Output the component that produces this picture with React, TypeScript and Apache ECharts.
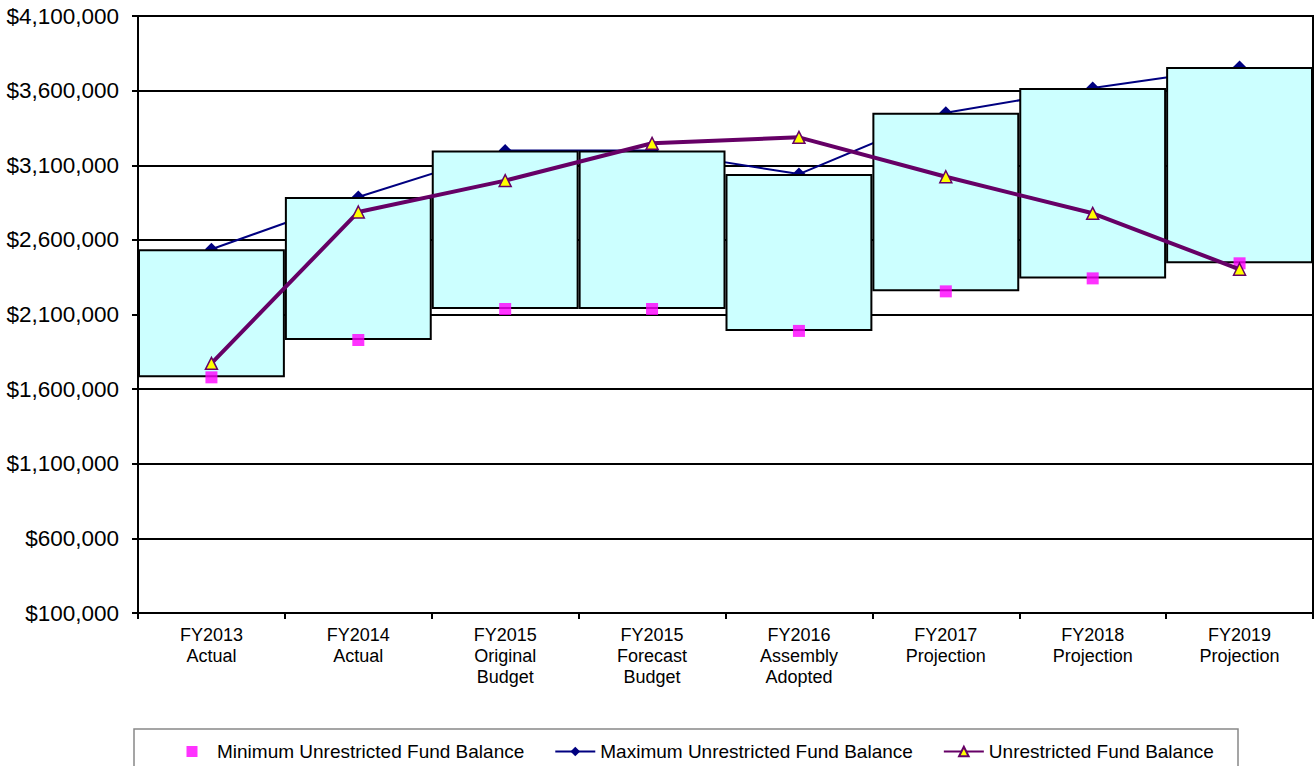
import React, { useEffect, useRef } from 'react';
import * as echarts from 'echarts';

const categories = [
  'FY2013\nActual',
  'FY2014\nActual',
  'FY2015\nOriginal\nBudget',
  'FY2015\nForecast\nBudget',
  'FY2016\nAssembly\nAdopted',
  'FY2017\nProjection',
  'FY2018\nProjection',
  'FY2019\nProjection',
];
const minimumBalance = [1679000, 1929000, 2137000, 2137000, 1990000, 2255000, 2342000, 2443000];
const maximumBalance = [2537000, 2887000, 3198000, 3198000, 3041000, 3452000, 3618000, 3758000];
const unrestrictedBalance = [1773000, 2787000, 2997000, 3247000, 3287000, 3023000, 2778000, 2403000];

const yAxisMin = 100000;
const yAxisMax = 4100000;
const yAxisStep = 500000;

const seriesNames = [
  'Minimum Unrestricted Fund Balance',
  'Maximum Unrestricted Fund Balance',
  'Unrestricted Fund Balance',
];
const titleText = 'Unrestricted Fund Balance';

const FONT = '"Liberation Sans", Arial, sans-serif';
// square icon centred in a 40x12 legend box (degenerate sub-paths fix the extent)
const SQUARE_ICON = 'path://M0,0L0.01,0Z M14.5,0.5h11v11h-11Z M39.99,12L40,12Z';

export default function App() {
  const ref = useRef<HTMLDivElement>(null);
  useEffect(() => {
    if (!ref.current) return;
    const chart = echarts.init(ref.current, undefined, { renderer: 'svg' });
    const boxHeights = maximumBalance.map((v, i) => v - minimumBalance[i]);
    chart.setOption({
      animation: false,
      backgroundColor: '#fff',
      textStyle: { fontFamily: FONT },
      grid: {
        left: 138,
        right: 1,
        top: 16,
        bottom: 153,
        show: true,
        borderColor: '#000',
        borderWidth: 2,
        backgroundColor: 'transparent',
      },
      graphic: [
        {
          type: 'text',
          x: 662,
          y: 2,
          style: {
            text: titleText,
            fontFamily: FONT,
            fontSize: 21,
            fontWeight: 'bold',
            fill: '#000',
            align: 'center',
            verticalAlign: 'bottom',
          },
        },
        {
          type: 'rect',
          shape: { x: 134, y: 729, width: 1104, height: 60 },
          style: { fill: 'none', stroke: '#888', lineWidth: 1.5 },
          z: -1,
        },
      ],
      legend: {
        data: [
          { name: seriesNames[0], icon: SQUARE_ICON },
          { name: seriesNames[1] },
          { name: seriesNames[2] },
        ],
        left: 167,
        top: 737,
        itemWidth: 40,
        itemHeight: 12,
        itemGap: 30,
        textStyle: { fontSize: 19, color: '#000', fontFamily: FONT },
      },
      xAxis: {
        type: 'category',
        data: categories,
        boundaryGap: true,
        axisLine: { show: true, lineStyle: { color: '#000', width: 2 } },
        axisTick: { show: true, length: 6, interval: 0, lineStyle: { color: '#000', width: 2 } },
        axisLabel: {
          interval: 0,
          fontSize: 18,
          lineHeight: 21,
          color: '#000',
          margin: 11,
          fontFamily: FONT,
        },
        splitLine: { show: false },
      },
      yAxis: {
        type: 'value',
        min: yAxisMin,
        max: yAxisMax,
        interval: yAxisStep,
        axisLine: { show: true, lineStyle: { color: '#000', width: 2 } },
        axisTick: { show: true, length: 6, lineStyle: { color: '#000', width: 2 } },
        axisLabel: {
          fontSize: 22.5,
          color: '#000',
          margin: 19,
          fontFamily: FONT,
          formatter: (v: number) => '$' + v.toLocaleString('en-US'),
        },
        splitLine: { show: true, lineStyle: { color: '#000', width: 2 } },
      },
      series: [
        {
          name: seriesNames[1],
          type: 'line',
          data: maximumBalance,
          symbol: 'diamond',
          symbolSize: 13,
          lineStyle: { color: '#000080', width: 2 },
          itemStyle: { color: '#000080' },
          z: 1,
        },
        {
          name: 'base',
          type: 'bar',
          stack: 'box',
          data: minimumBalance,
          barWidth: '100%',
          barCategoryGap: '0%',
          itemStyle: { color: 'transparent' },
          silent: true,
          z: 2,
        },
        {
          name: 'range',
          type: 'bar',
          stack: 'box',
          data: boxHeights,
          barWidth: '100%',
          barCategoryGap: '0%',
          itemStyle: { color: '#CCFFFF', borderColor: '#000', borderWidth: 2 },
          z: 2,
        },
        {
          name: seriesNames[0],
          type: 'scatter',
          data: minimumBalance,
          symbol: 'rect',
          symbolSize: 12,
          itemStyle: { color: '#FF00FF' },
          z: 3,
        },
        {
          name: seriesNames[2],
          type: 'line',
          data: unrestrictedBalance,
          symbol: 'triangle',
          symbolSize: 12,
          lineStyle: { color: '#660066', width: 4 },
          itemStyle: { color: '#FFFF00', borderColor: '#660066', borderWidth: 1.5 },
          z: 4,
        },
      ],
    });
    return () => chart.dispose();
  }, []);
  return (
    <div
      ref={ref}
      style={{ position: 'absolute', left: 0, top: 0, width: 1314, height: 766 }}
    />
  );
}
